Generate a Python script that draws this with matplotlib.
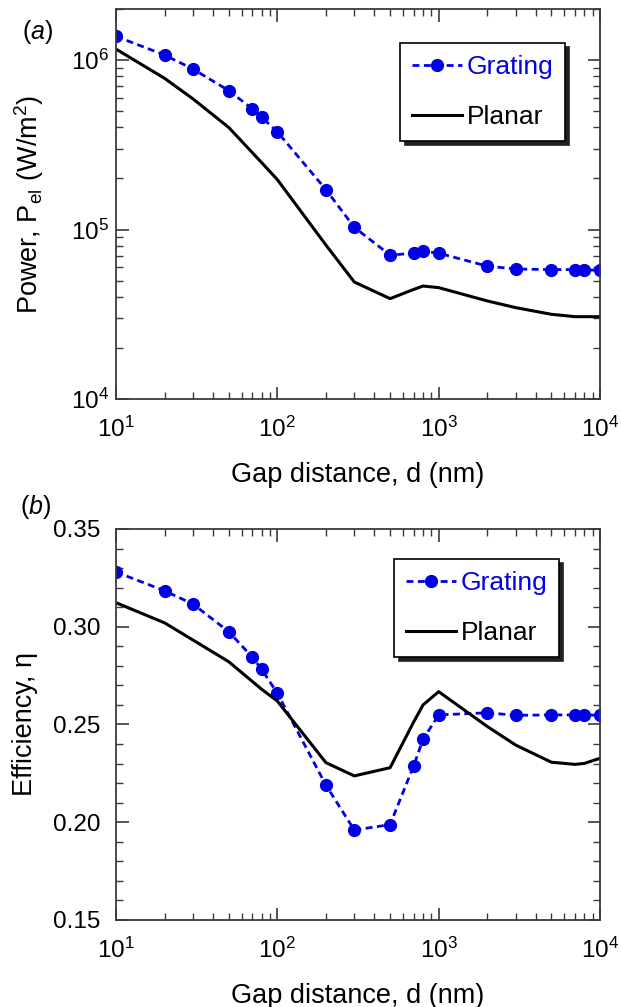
import matplotlib
matplotlib.use('Agg')
import matplotlib.pyplot as plt
from matplotlib.ticker import LogLocator, MultipleLocator, FormatStrFormatter, NullFormatter

plt.rcParams['font.family'] = ['Liberation Sans', 'DejaVu Sans']
plt.rcParams['mathtext.fontset'] = 'custom'
plt.rcParams['mathtext.rm'] = 'Liberation Sans'
plt.rcParams['mathtext.it'] = 'Liberation Sans:italic'

gap_nm = [10, 20, 30, 50, 70, 80, 100, 200, 300, 500, 700, 800,
          1000, 2000, 3000, 5000, 7000, 8000, 10000]

power_grating = [1.38e6, 1.07e6, 8.85e5, 6.6e5, 5.15e5, 4.6e5, 3.77e5, 1.72e5,
                 1.03e5, 7.06e4, 7.25e4, 7.45e4, 7.25e4, 6.08e4, 5.85e4, 5.8e4,
                 5.8e4, 5.78e4, 5.75e4]
power_planar = [1.16e6, 7.8e5, 5.9e5, 4.0e5, 2.84e5, 2.48e5, 1.97e5, 8.1e4,
                4.9e4, 3.91e4, 4.43e4, 4.64e4, 4.54e4, 3.79e4, 3.46e4, 3.16e4,
                3.06e4, 3.06e4, 3.06e4]

eff_grating = [0.328, 0.3184, 0.3116, 0.2975, 0.2844, 0.2782, 0.266, 0.219,
               0.196, 0.1988, 0.2289, 0.2424, 0.2549, 0.256, 0.2547, 0.2549,
               0.2549, 0.2549, 0.2547]
eff_planar = [0.3123, 0.302, 0.2932, 0.2821, 0.272, 0.268, 0.262, 0.2305,
              0.2237, 0.2279, 0.2513, 0.26, 0.2668, 0.249, 0.2395, 0.2307,
              0.2296, 0.2301, 0.2327]

BLUE = '#0000e6'
FRAME = '#3a3a3a'
W, H = 621.0, 1007.0
AX_W = 484.0
LABEL_SIZE = 19.5
TICK_SIZE = 17.5


def style_axes(ax, ypad):
    for sp in ax.spines.values():
        sp.set_color(FRAME)
        sp.set_linewidth(1.3)
    ax.tick_params(which='both', direction='in', top=True, right=True,
                   color=FRAME, labelsize=TICK_SIZE)
    ax.tick_params(which='major', length=9, width=1.2)
    ax.tick_params(which='minor', length=5, width=1.0)
    ax.tick_params(axis='x', which='major', pad=13)
    ax.tick_params(axis='y', which='major', pad=ypad)
    ax.set_xscale('log')
    ax.set_xlim(10, 1e4)
    ax.xaxis.set_major_locator(LogLocator(base=10, numticks=10))
    ax.xaxis.set_minor_locator(LogLocator(base=10, subs=range(2, 10), numticks=20))
    ax.xaxis.set_minor_formatter(NullFormatter())
    ax.set_xlabel('Gap distance, d (nm)', fontsize=LABEL_SIZE, labelpad=14)


def add_legend(ax, bbox):
    leg = ax.legend(loc='upper right', bbox_to_anchor=bbox, fontsize=19,
                    frameon=True, fancybox=False, edgecolor='black',
                    shadow={'color': '#202020', 'alpha': 1.0, 'ox': 3, 'oy': -3},
                    handlelength=1.9, handletextpad=0.15, labelspacing=1.0,
                    borderpad=0.45, borderaxespad=0)
    leg.get_frame().set_linewidth(1.2)
    leg.get_texts()[0].set_color(BLUE)
    return leg


fig = plt.figure(figsize=(6.21, 10.07), dpi=100)

# (a) electrical power
ax1 = fig.add_axes([116 / W, 1 - 399 / H, AX_W / W, 390 / H])
ax1.plot(gap_nm, power_grating, '--o', color=BLUE, lw=2, ms=8.5,
         dashes=(2.5, 1.6), label='Grating')
ax1.plot(gap_nm, power_planar, '-', color='black', lw=2.2, label='Planar')
ax1.set_yscale('log')
ax1.set_ylim(1e4, 2e6)
ax1.yaxis.set_minor_locator(LogLocator(base=10, subs=range(2, 10), numticks=20))
ax1.yaxis.set_minor_formatter(NullFormatter())
style_axes(ax1, ypad=5)
ax1.set_ylabel(r'Power, P$_{\rm el}$ (W/m$^2$)', fontsize=LABEL_SIZE)
ax1.yaxis.set_label_coords((46 - 116) / AX_W, 0.5)
add_legend(ax1, ((565 - 116) / AX_W, 1 - (43 - 9) / 390))
ax1.text((22 - 116) / AX_W, 0.941, r'($\it{a}$)', transform=ax1.transAxes,
         fontsize=18, ha='left', va='center')

# (b) efficiency
ax2 = fig.add_axes([116 / W, 1 - 920 / H, AX_W / W, 391 / H])
ax2.plot(gap_nm, eff_grating, '--o', color=BLUE, lw=2, ms=8.5,
         dashes=(2.5, 1.6), label='Grating')
ax2.plot(gap_nm, eff_planar, '-', color='black', lw=2.2, label='Planar')
ax2.set_ylim(0.15, 0.35)
ax2.yaxis.set_major_locator(MultipleLocator(0.05))
ax2.yaxis.set_minor_locator(MultipleLocator(0.01))
ax2.yaxis.set_major_formatter(FormatStrFormatter('%.2f'))
style_axes(ax2, ypad=11)
ax2.set_ylabel('Efficiency, η', fontsize=LABEL_SIZE)
ax2.yaxis.set_label_coords((38 - 116) / AX_W, 0.5)
add_legend(ax2, ((559 - 116) / AX_W, 1 - (559 - 529) / 391))
ax2.text((20 - 116) / AX_W, 1.056, r'($\it{b}$)', transform=ax2.transAxes,
         fontsize=18, ha='left', va='center')

fig.savefig('out.png', dpi=100)
